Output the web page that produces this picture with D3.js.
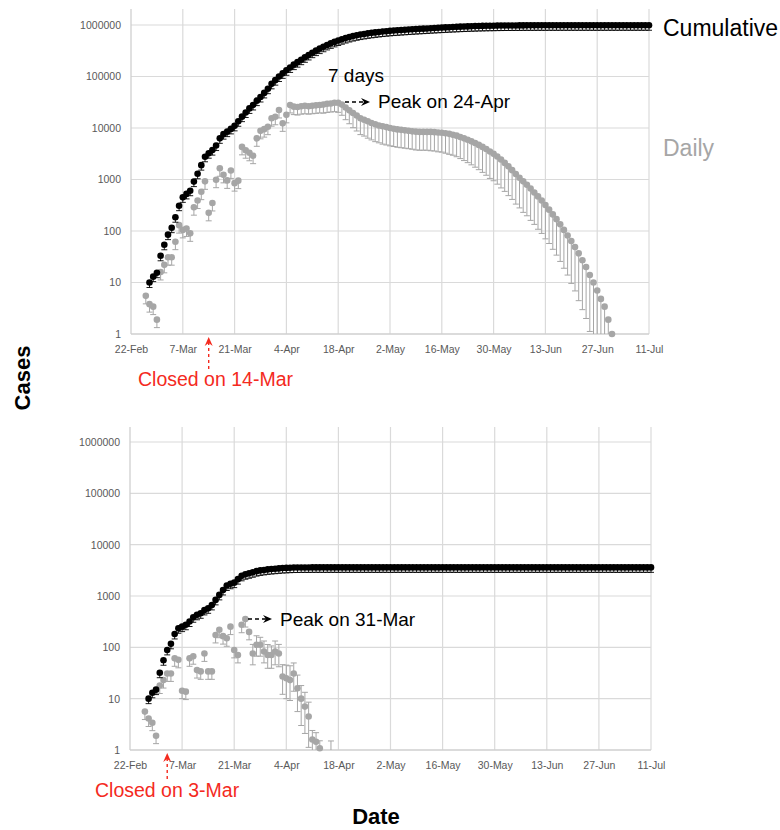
<!DOCTYPE html>
<html><head><meta charset="utf-8">
<script src="https://cdn.jsdelivr.net/npm/d3@7"></script>
<style>body{margin:0;background:#fff}</style>
</head><body>
<svg id="chart" width="780" height="830"></svg>
<script>
// ---------------- DATA ----------------
const startDate = "22-Feb-2020";
const endDate = "11-Jul-2020";
const xTickLabels = ["22-Feb","7-Mar","21-Mar","4-Apr","18-Apr","2-May","16-May","30-May","13-Jun","27-Jun","11-Jul"];
const yTickValues = [1,10,100,1000,10000,100000,1000000];

// Top panel (closed on 14-Mar) - day offsets from 22-Feb
const topDailyStart = 4;
const topDailyCases = [
 5.5,3.8,3.4,1.9,16,22,31,31,62,130,
 105,112,90,290,390,580,920,225,350,990,
 1650,1230,960,1500,850,950,4300,3700,3300,2900,
 6300,8800,9500,10600,15500,16500,22400,12300,18000,28000,
 26000,25500,26500,27000,26500,27000,27500,28000,28500,29500,
 30000,31000,31000,28500,25000,22000,19500,17500,15500,14500,
 13500,12500,11800,11200,10800,10400,10000,9700,9400,9200,
 9000,8800,8600,8500,8400,8400,8400,8400,8300,8200,
 8100,7900,7700,7400,7100,6700,6300,5900,5500,5100,
 4700,4300,3900,3500,3150,2800,2450,2100,1800,1520,
 1280,1080,920,790,670,560,470,390,320,260,
 210,170,135,105,82,64,49,37,27,20,
 14,10,7,4.8,3.4,1.9,1
];
const topDailyErrLow = [
 0.3,0.3,0.3,0.3,0.3,0.3,0.3,0.3,0.3,0.3,
 0.3,0.3,0.3,0.3,0.3,0.3,0.3,0.3,0.3,0.3,
 0.3,0.3,0.3,0.3,0.3,0.3,0.3,0.3,0.3,0.3,
 0.3,0.3,0.3,0.3,0.3,0.3,0.3,0.3,0.3,0.3,
 0.3,0.3,0.3,0.3,0.3,0.3,0.3,0.3,0.32,0.32,
 0.32,0.33,0.35,0.38,0.42,0.45,0.48,0.5,0.52,0.52,
 0.53,0.53,0.54,0.54,0.55,0.55,0.55,0.55,0.55,0.55,
 0.55,0.55,0.55,0.56,0.56,0.56,0.56,0.57,0.57,0.58,
 0.58,0.59,0.6,0.6,0.61,0.62,0.63,0.64,0.65,0.66,
 0.67,0.68,0.69,0.7,0.7,0.71,0.72,0.72,0.73,0.73,
 0.74,0.74,0.75,0.75,0.76,0.76,0.77,0.77,0.78,0.78,
 0.79,0.8,0.81,0.82,0.83,0.85,0.86,0.88,0.89,0.9,
 0.92,0.93,0.95,0.96,0.97,0.98,0.99
];
const topCumStart = 5;
const topCumCases = [
 10,13,15.5,33,54,85,116,185,310,450,
 525,605,910,1290,1900,2760,3240,3720,4560,6300,
 7600,8500,9600,11000,13500,16600,20000,24000,28000,34000,
 40000,48000,58000,72000,85000,100000,115000,132000,150000,170000,
 190000,212000,236000,262000,290000,318000,348000,378000,410000,440000,
 470000,500000,530000,558000,585000,610000,632000,652000,670000,688000,
 704000,719000,733000,746000,758000,770000,780000,789000,798000,807000,
 816000,825000,833000,842000,850000,858000,867000,875000,883000,891000,
 899000,907000,914000,921000,928000,934000,940000,946000,951000,956000,
 960000,964000,967000,970000,973000,975000,977000,979000,980000,981000,
 982000,983000,984000,985000,985500,986000,986300,986600,986800,987000,
 987100,987200,987300,987400,987500,987500,987600,987600,987600,987700,
 987700,987700,987700,987700,987800,987800,987800,987800,987800,987800,
 987800,987800,987800,987800,987800,987800
];

// Bottom panel (closed on 3-Mar)
const bottomDailyStart = 4;
const bottomDailyCases = [
 5.6,4.1,3.4,1.9,18,23,31,31,61,57,
 14.3,13.7,61,67,36,34,76,34,34,174,
 220,165,150,253,89,71,275,355,200,76,
 112,112,83,71,71,83,76,27,25,23,
 31,16,10,7,4.5,1.6,1.45,1.08,0,0,
 0.6
];
const bottomDailyErrLow = [
 0.3,0.3,0.3,0.3,0.3,0.3,0.3,0.3,0.3,0.3,
 0.3,0.3,0.3,0.3,0.3,0.3,0.3,0.3,0.3,0.3,
 0.3,0.3,0.3,0.3,0.3,0.3,0.3,0.3,0.3,0.4,
 0.4,0.4,0.4,0.45,0.45,0.45,0.45,0.55,0.6,0.6,
 0.55,0.65,0.7,0.7,0.75,0.4,0.4,0.3,0,0,
 0
];
const bottomDailyErrHigh = [
 0,0,0,0,0,0,0,0,0,0,
 0,0,0,0,0,0,0,0,0,0,
 0,0,0,0,0,0,0,0,0,0.5,
 0.5,0.4,0.6,0.6,0.5,0.6,0.5,0.7,0.8,0.9,
 0.6,0.8,0.8,0.9,0.9,0.5,0.5,0.4,0,0,
 1.5
];
const bottomCumStart = 5;
const bottomCumCases = [
 10,13,15,32,56,89,117,182,235,253,
 275,318,385,430,460,535,575,670,840,1050,
 1310,1600,1730,1820,2130,2470,2650,2770,2900,3050,
 3150,3220,3300,3350,3400,3450,3500,3530,3560,3580,
 3590,3600,3600,3600,3610,3610,3610,3610,3610,3610,
 3610,3610,3610,3610,3610,3610,3610,3610,3610,3610,
 3610,3610,3610,3610,3610,3610,3610,3610,3610,3610,
 3610,3610,3610,3610,3610,3610,3610,3610,3610,3610,
 3610,3610,3610,3610,3610,3610,3610,3610,3610,3610,
 3610,3610,3610,3610,3610,3610,3610,3610,3610,3610,
 3610,3610,3610,3610,3610,3610,3610,3610,3610,3610,
 3610,3610,3610,3610,3610,3610,3610,3610,3610,3610,
 3610,3610,3610,3610,3610,3610,3610,3610,3610,3610,
 3610,3610,3610,3610,3610,3610
];
const cumErrLow = 0.2;   // minus error bar on cumulative series

// ---------------- DRAW ----------------
const svg = d3.select("#chart");
const font = "'Liberation Sans', Arial, Helvetica, sans-serif";
const parse = d3.utcParse("%d-%b-%Y");
const t0 = parse(startDate), t1 = parse(endDate);
const tickDates = xTickLabels.map(l => parse(l + "-2020"));
const GRAY = "#a6a6a6", GRID = "#dadada", RED = "#f42a1e";

function series(start, cases, lo, hi) {
  return cases.map((v, i) => ({
    date: d3.utcDay.offset(t0, start + i), v,
    lo: v * (1 - (Array.isArray(lo) ? lo[i] : lo)),
    hi: v * (1 + (hi ? hi[i] : 0))
  })).filter(d => d.v > 0);
}

function panel(cfg) {
  const x = d3.scaleUtc().domain([t0, t1]).range([cfg.left, cfg.right]);
  const y = d3.scaleLog().domain([1, 1e6]).range([cfg.bottom, cfg.top]);
  const g = svg.append("g");

  g.append("g").selectAll("line").data(yTickValues.slice(1)).join("line")
    .attr("x1", cfg.left).attr("x2", cfg.right)
    .attr("y1", d => y(d)).attr("y2", d => y(d))
    .attr("stroke", GRID).attr("stroke-width", 1.2);
  g.append("g").selectAll("line").data(tickDates.slice(1)).join("line")
    .attr("x1", d => x(d)).attr("x2", d => x(d))
    .attr("y1", cfg.gridTop).attr("y2", cfg.bottom)
    .attr("stroke", GRID).attr("stroke-width", 1.2);
  g.append("line").attr("x1", cfg.left).attr("x2", cfg.left).attr("y1", cfg.gridTop).attr("y2", cfg.bottom)
    .attr("stroke", "#cfcfcf").attr("stroke-width", 1.3);
  g.append("line").attr("x1", cfg.left).attr("x2", cfg.right).attr("y1", cfg.bottom).attr("y2", cfg.bottom)
    .attr("stroke", "#cfcfcf").attr("stroke-width", 1.3);

  const ya = d3.axisLeft(y).tickValues(yTickValues).tickFormat(d3.format("d")).tickSize(0).tickPadding(10);
  g.append("g").attr("transform", `translate(${cfg.left},0)`).call(ya)
    .call(s => s.select(".domain").remove())
    .selectAll("text").attr("font-size", 10.5).attr("fill", "#595959").attr("font-family", font);
  const xa = d3.axisBottom(x).tickValues(tickDates).tickFormat((d, i) => xTickLabels[i]).tickSize(0).tickPadding(12);
  g.append("g").attr("transform", `translate(0,${cfg.bottom})`).call(xa)
    .call(s => s.select(".domain").remove())
    .selectAll("text").attr("font-size", 10.5).attr("fill", "#595959").attr("font-family", font);

  function drawSeries(data, color, r, bw) {
    const eb = g.append("g").attr("stroke", color).attr("stroke-width", bw);
    data.forEach(d => {
      const yl = y(Math.max(d.lo, 1)), yh = y(d.hi);
      if (yl - yh > 0.5) eb.append("line").attr("x1", x(d.date)).attr("x2", x(d.date)).attr("y1", yh).attr("y2", yl);
      if (d.lo >= 1 && d.lo < d.v) eb.append("line").attr("x1", x(d.date) - 3).attr("x2", x(d.date) + 3).attr("y1", yl).attr("y2", yl);
      if (d.hi > d.v) eb.append("line").attr("x1", x(d.date) - 3).attr("x2", x(d.date) + 3).attr("y1", yh).attr("y2", yh);
    });
    g.append("g").selectAll("circle").data(data.filter(d => d.v >= 1)).join("circle")
      .attr("cx", d => x(d.date)).attr("cy", d => y(d.v)).attr("r", r).attr("fill", color);
  }
  drawSeries(cfg.daily, GRAY, 3.3, 1);
  drawSeries(cfg.cum, "#000", 3.3, 0.9);
  return {x, y};
}

const topPanel = panel({
  left: 131, right: 649, top: 25, bottom: 334, gridTop: 9,
  daily: series(topDailyStart, topDailyCases, topDailyErrLow, null),
  cum: series(topCumStart, topCumCases, cumErrLow, null)
});
const botPanel = panel({
  left: 130, right: 651, top: 442, bottom: 750, gridTop: 427,
  daily: series(bottomDailyStart, bottomDailyCases, bottomDailyErrLow, bottomDailyErrHigh),
  cum: series(bottomCumStart, bottomCumCases, cumErrLow, null)
});

// ---------------- ANNOTATIONS ----------------
function text(x, y, s, size, color, extra) {
  const t = svg.append("text").attr("x", x).attr("y", y).text(s)
    .attr("font-family", font).attr("font-size", size).attr("fill", color || "#000");
  if (extra) extra(t);
  return t;
}
function hArrow(x1, x2, y) {
  svg.append("line").attr("x1", x1).attr("x2", x2 - 6).attr("y1", y).attr("y2", y)
    .attr("stroke", "#000").attr("stroke-width", 1.4).attr("stroke-dasharray", "4,3");
  svg.append("path").attr("d", `M${x2},${y} L${x2 - 9},${y - 4} L${x2 - 6},${y} L${x2 - 9},${y + 4} Z`).attr("fill", "#000");
}
function vArrowRed(x, yTip, yEnd) {
  svg.append("line").attr("x1", x).attr("x2", x).attr("y1", yTip + 5).attr("y2", yEnd)
    .attr("stroke", RED).attr("stroke-width", 1.4).attr("stroke-dasharray", "3,3");
  svg.append("path").attr("d", `M${x},${yTip} L${x - 4},${yTip + 9} L${x},${yTip + 6} L${x + 4},${yTip + 9} Z`).attr("fill", RED);
}

text(663, 36, "Cumulative", 23, "#000");
text(663, 156, "Daily", 23, GRAY);
text(328, 82, "7 days", 19, "#000");
hArrow(345, 370, 102);
text(378, 108, "Peak on 24-Apr", 19, "#000");

const closedTop = topPanel.x(parse("14-Mar-2020"));
vArrowRed(closedTop, 337, 372);
text(138, 386, "Closed on 14-Mar", 19.5, RED);

hArrow(248, 272, 619);
text(280, 626, "Peak on 31-Mar", 19, "#000");

const closedBot = botPanel.x(parse("3-Mar-2020"));
vArrowRed(closedBot, 753, 782);
text(95, 797, "Closed on 3-Mar", 19.5, RED);

text(0, 0, "Cases", 22, "#000", t => t.attr("font-weight", "bold").attr("text-anchor", "middle")
  .attr("transform", "translate(30,378) rotate(-90)"));
text(376, 824, "Date", 22, "#000", t => t.attr("font-weight", "bold").attr("text-anchor", "middle"));
</script>
</body></html>
